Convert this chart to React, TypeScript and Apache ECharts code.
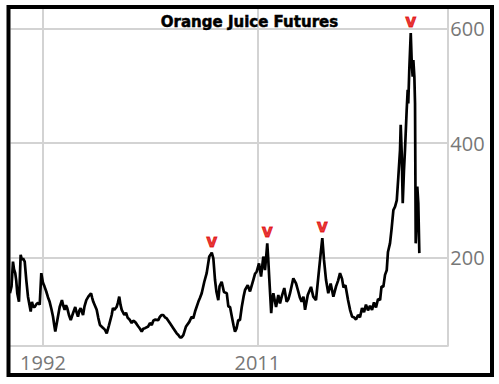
import React, { useEffect, useRef } from "react";
import * as echarts from "echarts";

const years: number[] = [
  1989.07, 1989.21, 1989.34, 1989.43, 1989.54, 1989.63, 1989.72, 1989.87, 1989.96, 1990.02,
  1990.14, 1990.23, 1990.38, 1990.52, 1990.67, 1990.8, 1990.91, 1991.02, 1991.14, 1991.26,
  1991.42, 1991.56, 1991.71, 1991.85, 1992.0, 1992.13, 1992.29, 1992.44, 1992.59, 1992.75,
  1992.89, 1993.0, 1993.09, 1993.27, 1993.38, 1993.48, 1993.68, 1993.8, 1993.92, 1994.04,
  1994.15, 1994.3, 1994.46, 1994.66, 1994.86, 1994.97, 1995.1, 1995.23, 1995.34, 1995.55,
  1995.68, 1995.84, 1996.02, 1996.26, 1996.36, 1996.46, 1996.61, 1996.76, 1996.9, 1997.05,
  1997.35, 1997.5, 1997.65, 1997.85, 1998.09, 1998.2, 1998.32, 1998.53, 1998.65, 1998.76,
  1998.87, 1998.98, 1999.21, 1999.36, 1999.51, 1999.67, 1999.86, 2000.0, 2000.16, 2000.31,
  2000.45, 2000.6, 2000.75, 2000.89, 2001.04, 2001.33, 2001.48, 2001.64, 2001.78, 2001.93,
  2002.22, 2002.37, 2002.52, 2002.66, 2002.81, 2002.97, 2003.26, 2003.55, 2003.85, 2004.0,
  2004.15, 2004.28, 2004.44, 2004.68, 2004.97, 2005.18, 2005.32, 2005.48, 2005.77, 2005.92,
  2006.07, 2006.3, 2006.51, 2006.74, 2006.85, 2006.96, 2007.1, 2007.25, 2007.38, 2007.54,
  2007.65, 2007.84, 2008.04, 2008.29, 2008.43, 2008.58, 2008.76, 2008.89, 2009.02, 2009.15,
  2009.31, 2009.46, 2009.62, 2009.78, 2009.91, 2010.15, 2010.35, 2010.48, 2010.64, 2010.8,
  2010.95, 2011.15, 2011.33, 2011.53, 2011.68, 2011.8, 2011.88, 2011.96, 2012.05, 2012.23,
  2012.33, 2012.42, 2012.66, 2012.86, 2013.01, 2013.16, 2013.39, 2013.6, 2013.76, 2013.9,
  2014.19, 2014.43, 2014.63, 2014.78, 2014.93, 2015.09, 2015.23, 2015.47, 2015.76, 2015.96,
  2016.2, 2016.41, 2016.62, 2016.76, 2016.91, 2017.09, 2017.29, 2017.5, 2017.74, 2017.98,
  2018.16, 2018.33, 2018.51, 2018.64, 2018.81, 2019.04, 2019.22, 2019.4, 2019.57, 2019.75,
  2019.93, 2020.1, 2020.28, 2020.46, 2020.63, 2020.81, 2020.99, 2021.17, 2021.34, 2021.52,
  2021.7, 2021.88, 2022.01, 2022.17, 2022.32, 2022.47, 2022.58, 2022.76, 2022.9, 2023.06,
  2023.21, 2023.36, 2023.5, 2023.65, 2023.71, 2023.8, 2023.89, 2024.0, 2024.09, 2024.24,
  2024.33, 2024.38, 2024.47, 2024.6, 2024.69, 2024.77, 2024.83, 2024.92, 2024.98, 2025.04,
  2025.11, 2025.18, 2025.27, 2025.36,
];

const prices: number[] = [
  138, 150, 193, 180, 173, 160, 138, 123, 170, 205,
  196, 199, 193, 161, 132, 118, 106, 123, 114, 114,
  119, 121, 118, 173, 156, 150, 141, 131, 123, 110,
  97, 82, 71, 91, 103, 114, 126, 116, 109, 117,
  112, 100, 91, 103, 114, 105, 97, 108, 112, 100,
  115, 126, 132, 138, 130, 123, 116, 109, 95, 82.5,
  77, 74, 68, 82, 100, 112, 109, 114, 122, 132,
  118, 109, 100, 104, 95, 92, 86, 90, 88, 84,
  80, 76, 71, 76, 77, 80, 86, 82.5, 90, 92,
  91, 97, 100, 100, 96, 94, 85.5, 77, 68, 65,
  61, 61, 65, 80, 88, 97, 94, 106, 123, 130,
  138, 158, 173, 202, 205, 209, 199, 161, 140, 126,
  150, 158, 140, 138, 115, 114, 95, 82, 71, 76,
  91, 91, 114, 132, 143.6, 152, 141, 150, 161, 172,
  176, 190, 167, 202, 178.5, 205, 225, 200, 167, 103,
  128, 138, 114, 135, 120, 132, 147, 123, 128, 138,
  164, 155, 141, 130, 123, 132, 109, 135, 149, 132,
  126, 167, 208, 234, 196, 161, 138, 155, 132, 150,
  160, 173, 163, 148, 152, 126, 109, 97, 96, 92,
  100, 96, 112, 105, 118, 108, 116, 109, 122, 113,
  128, 126, 150, 149, 170, 178, 210, 225, 250, 283,
  289, 300, 341, 388, 432, 382, 295, 353, 388, 458,
  493, 469, 528, 592, 539, 516, 545, 516, 469, 225,
  260, 324, 295, 208,
];

const peakYears: number[] = [2006.96, 2011.88, 2016.76, 2024.6];
const xLabelValues: number[] = [1992, 2011];
const yLabelValues: number[] = [200, 400, 600];
const titleText = "Orange Juice Futures";

export default function App() {
  const ref = useRef<HTMLDivElement>(null);
  useEffect(() => {
    if (!ref.current) return;
    const chart = echarts.init(ref.current, null, { renderer: "svg" });
    const lineData = years.map((y, i) => [y, prices[i]]);
    const peakData = peakYears.map((py) => {
      const idx = years.indexOf(py);
      return [py, prices[idx]];
    });
    const grid = "#d3d3d3";
    const labelFont = { fontFamily: "Open Sans", fontSize: 20, color: "#777" };
    chart.setOption({
      animation: false,
      backgroundColor: "#fff",
      title: {
        text: titleText,
        left: "center",
        top: 9,
        textStyle: {
          fontFamily: "DejaVu Sans",
          fontWeight: "bold",
          fontSize: 15,
          color: "#000",
          textBorderColor: "#000",
          textBorderWidth: 0.5,
        },
      },
      grid: { left: 10.5, right: 51.7, top: 9, bottom: 38.3, containLabel: false },
      xAxis: {
        type: "value",
        min: 1989.12,
        max: 2027.84,
        axisLine: { show: true, lineStyle: { color: grid, width: 2 } },
        axisTick: { show: false },
        splitLine: { show: false },
        axisLabel: {
          ...labelFont,
          customValues: xLabelValues,
          margin: 7,
          formatter: (v: number) => String(Math.round(v)),
        },
      },
      yAxis: {
        type: "value",
        position: "right",
        min: 46.4,
        max: 634,
        axisLine: { show: true, lineStyle: { color: grid, width: 2 } },
        axisTick: { show: false },
        splitLine: { show: false },
        axisLabel: {
          ...labelFont,
          customValues: yLabelValues,
          margin: 3,
          formatter: (v: number) => String(Math.round(v)),
        },
      },
      series: [
        {
          type: "line",
          data: lineData,
          showSymbol: false,
          symbol: "none",
          z: 2,
          lineStyle: { color: "#000", width: 2.7 },
          markLine: {
            silent: true,
            z: 1,
            symbol: "none",
            label: { show: false },
            lineStyle: { color: grid, width: 2, type: "solid" },
            data: [
              ...xLabelValues.map((v) => ({ xAxis: v })),
              ...yLabelValues.map((v) => ({ yAxis: v })),
            ],
          },
        },
        {
          type: "scatter",
          data: peakData,
          symbolSize: 1,
          itemStyle: { color: "rgba(0,0,0,0)" },
          z: 3,
          label: {
            show: true,
            formatter: "v",
            position: "top",
            distance: 3,
            color: "#e00000",
            fontSize: 17,
            fontWeight: "bold",
            fontFamily: "DejaVu Sans",
            textBorderColor: "#e00000",
            textBorderWidth: 0.8,
          },
        },
      ],
      graphic: [
        {
          type: "rect",
          z: 100,
          shape: { x: 8.5, y: 7, width: 483.5, height: 368 },
          style: { fill: "none", stroke: "#000", lineWidth: 4 },
        },
      ],
    });
    return () => chart.dispose();
  }, []);
  return (
    <div
      ref={ref}
      style={{ position: "absolute", left: 0, top: 0, width: 499, height: 384 }}
    />
  );
}
